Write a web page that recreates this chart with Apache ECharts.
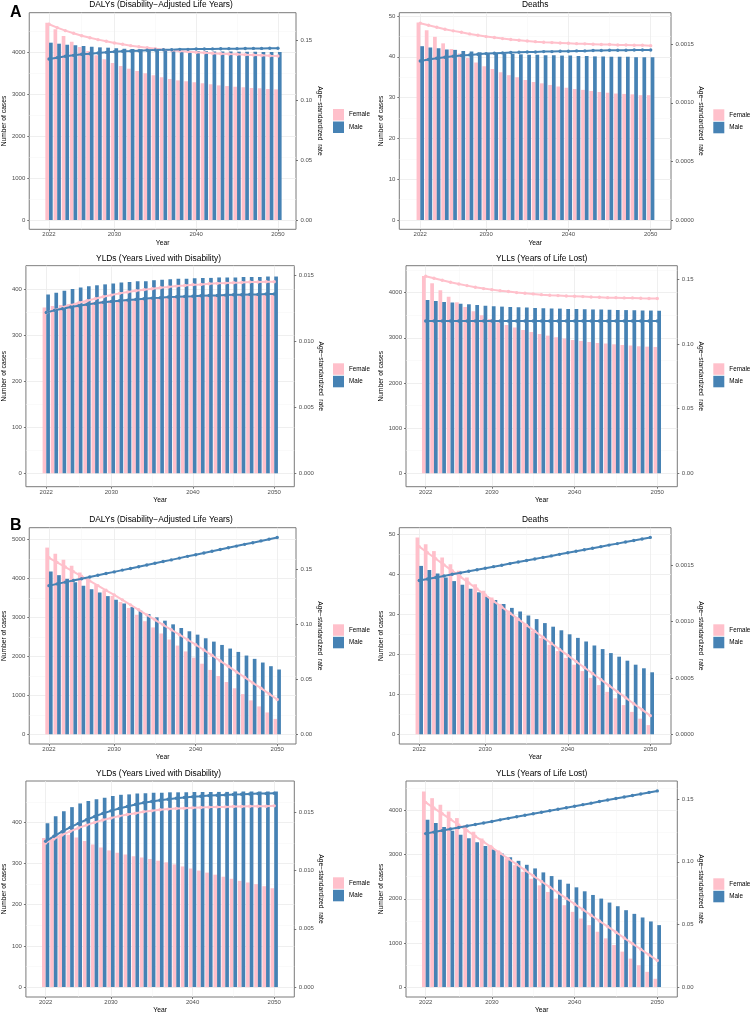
<!DOCTYPE html>
<html><head><meta charset="utf-8">
<script src="https://cdn.jsdelivr.net/npm/echarts@6/dist/echarts.min.js"></script>
<style>html,body{margin:0;padding:0;background:#fff}#c{width:750px;height:1015px}</style>
</head><body><div id="c"></div>
<script>
const years = [2022,2023,2024,2025,2026,2027,2028,2029,2030,2031,2032,2033,2034,2035,2036,2037,2038,2039,2040,2041,2042,2043,2044,2045,2046,2047,2048,2049,2050];
const xTicks = [2022,2030,2040,2050];
const xMinor = [2026,2035,2045];

// ---- A: DALYs ----
const dalysA_female = [4698,4540,4381,4246,4119,4024,3921,3825,3738,3667,3603,3548,3492,3444,3397,3357,3325,3302,3278,3254,3230,3206,3190,3175,3159,3143,3135,3119,3111];
const dalysA_male = [4222,4198,4175,4159,4143,4127,4111,4103,4087,4079,4071,4063,4056,4048,4040,4032,4030,4024,4022,4018,4015,4012,4010,4008,4006,4004,4003,4002,4000];
const dalysA_femaleRate = [0.1631,0.1603,0.1578,0.1556,0.1536,0.1519,0.1503,0.1489,0.1475,0.1464,0.1453,0.1444,0.1436,0.1428,0.1419,0.1414,0.1408,0.1403,0.1397,0.1394,0.1389,0.1386,0.1383,0.1381,0.1378,0.1375,0.1372,0.1369,0.1367];
const dalysA_maleRate = [0.1342,0.1353,0.1364,0.1372,0.1381,0.1386,0.1392,0.1397,0.1403,0.1406,0.1408,0.1411,0.1414,0.1417,0.1419,0.1419,0.1422,0.1422,0.1425,0.1425,0.1426,0.1427,0.1428,0.1428,0.1429,0.1430,0.1430,0.1431,0.1431];
// ---- A: Deaths ----
const deathsA_female = [48.4,46.5,44.9,43.3,41.9,40.8,39.7,38.6,37.7,37.0,36.2,35.5,35.0,34.3,33.8,33.5,33.1,32.7,32.4,32.1,31.9,31.6,31.4,31.2,31.0,30.9,30.8,30.6,30.6];
const deathsA_male = [42.6,42.3,42.1,41.8,41.7,41.4,41.3,41.1,40.9,40.8,40.8,40.7,40.6,40.5,40.5,40.4,40.4,40.3,40.3,40.2,40.2,40.1,40.1,40.0,40.0,40.0,39.9,39.9,39.9];
const deathsA_femaleRate = [0.001679,0.001662,0.001645,0.001628,0.001614,0.001602,0.001588,0.001577,0.001565,0.001557,0.001548,0.001540,0.001534,0.001528,0.001522,0.001517,0.001514,0.001511,0.001508,0.001505,0.001503,0.001500,0.001497,0.001497,0.001494,0.001494,0.001491,0.001491,0.001488];
const deathsA_maleRate = [0.001357,0.001369,0.001380,0.001389,0.001397,0.001403,0.001409,0.001414,0.001420,0.001423,0.001426,0.001429,0.001431,0.001434,0.001434,0.001437,0.001437,0.001440,0.001440,0.001443,0.001443,0.001446,0.001446,0.001449,0.001449,0.001449,0.001451,0.001451,0.001451];
// ---- A: YLDs ----
const yldsA_female = [360,363,365,367,369,371,372,374,375,376,377,378,379,380,381,382,383,384,384,385,385,386,386,387,387,388,388,389,389];
const yldsA_male = [388,392,396,400,403,406,408,410,412,414,415,417,417,419,420,421,422,422,423,424,424,425,425,425,426,426,426,427,427];
const yldsA_femaleRate = [0.01219,0.01239,0.01260,0.01277,0.01295,0.01310,0.01325,0.01340,0.01353,0.01366,0.01376,0.01386,0.01394,0.01401,0.01409,0.01414,0.01421,0.01426,0.01432,0.01434,0.01439,0.01442,0.01444,0.01447,0.01449,0.01452,0.01452,0.01454,0.01454];
const yldsA_maleRate = [0.01221,0.01237,0.01249,0.01262,0.01272,0.01282,0.01290,0.01298,0.01305,0.01310,0.01315,0.01320,0.01325,0.01330,0.01333,0.01338,0.01340,0.01343,0.01345,0.01348,0.01350,0.01350,0.01353,0.01356,0.01356,0.01358,0.01358,0.01361,0.01361];
// ---- A: YLLs ----
const yllsA_female = [4369,4207,4052,3911,3786,3683,3587,3498,3417,3343,3284,3225,3173,3129,3085,3048,3011,2982,2952,2930,2908,2886,2871,2856,2841,2827,2812,2804,2797];
const yllsA_male = [3838,3815,3793,3779,3756,3742,3727,3712,3697,3690,3683,3675,3668,3660,3653,3646,3646,3638,3638,3631,3627,3624,3620,3616,3613,3609,3605,3603,3601];
const yllsA_femaleRate = [0.1523,0.1508,0.1492,0.1477,0.1464,0.1451,0.1438,0.1428,0.1420,0.1412,0.1405,0.1397,0.1392,0.1387,0.1381,0.1376,0.1374,0.1371,0.1369,0.1366,0.1363,0.1361,0.1358,0.1358,0.1356,0.1356,0.1353,0.1351,0.1351];
const yllsA_maleRate = [0.1178,0.1178,0.1178,0.1178,0.1177,0.1177,0.1177,0.1177,0.1177,0.1177,0.1177,0.1177,0.1177,0.1177,0.1177,0.1177,0.1177,0.1177,0.1177,0.1177,0.1177,0.1177,0.1177,0.1177,0.1177,0.1177,0.1177,0.1177,0.1177];
// ---- B: DALYs ----
const dalysB_female = [4787,4630,4475,4320,4150,3990,3835,3690,3545,3395,3240,3065,2900,2740,2585,2430,2275,2125,1965,1810,1650,1495,1340,1180,1030,870,715,560,395];
const dalysB_male = [4174,4080,3986,3901,3807,3722,3637,3543,3450,3356,3262,3169,3083,2998,2913,2819,2726,2641,2555,2462,2376,2291,2198,2112,2019,1934,1840,1746,1661];
const dalysB_femaleRate = [0.1602,0.1560,0.1518,0.1476,0.1434,0.1392,0.1349,0.1307,0.1265,0.1220,0.1175,0.1130,0.1084,0.1039,0.0994,0.0949,0.0904,0.0858,0.0813,0.0765,0.0717,0.0666,0.0617,0.0566,0.0518,0.0467,0.0419,0.0367,0.0316];
const dalysB_maleRate = [0.1349,0.1365,0.1381,0.1396,0.1412,0.1427,0.1443,0.1459,0.1474,0.1490,0.1505,0.1521,0.1537,0.1552,0.1568,0.1583,0.1599,0.1615,0.1630,0.1646,0.1661,0.1677,0.1693,0.1708,0.1724,0.1739,0.1755,0.1771,0.1786];
// ---- B: Deaths ----
const deathsB_female = [49.2,47.5,45.8,44.2,42.5,40.9,39.2,37.5,35.9,34.2,32.6,30.9,29.2,27.6,25.9,24.1,22.4,20.8,19.1,17.4,15.8,14.1,12.3,10.6,9.0,7.3,5.6,3.9,2.3];
const deathsB_male = [42.1,41.1,40.2,39.2,38.3,37.4,36.4,35.5,34.5,33.6,32.6,31.6,30.7,29.7,28.8,27.8,26.9,26.0,25.0,24.1,23.2,22.2,21.3,20.3,19.4,18.4,17.4,16.5,15.5];
const deathsB_femaleRate = [0.001662,0.001608,0.001555,0.001501,0.001448,0.001394,0.001341,0.001287,0.001234,0.001180,0.001127,0.001073,0.001020,0.000966,0.000913,0.000859,0.000806,0.000752,0.000699,0.000645,0.000592,0.000538,0.000485,0.000431,0.000378,0.000325,0.000271,0.000218,0.000165];
const deathsB_maleRate = [0.001362,0.001376,0.001389,0.001403,0.001417,0.001430,0.001444,0.001457,0.001471,0.001485,0.001498,0.001512,0.001526,0.001539,0.001553,0.001567,0.001580,0.001594,0.001608,0.001621,0.001635,0.001648,0.001662,0.001676,0.001689,0.001703,0.001717,0.001730,0.001744];
// ---- B: YLDs ----
const yldsB_female = [362,365,368,370,363,355,346,339,332,326,322,318,315,311,307,303,298,293,288,283,278,273,268,263,258,254,250,245,240];
const yldsB_male = [398,415,427,437,446,452,456,460,464,467,468,470,471,472,472,473,473,473,474,474,474,474,474,475,475,475,475,475,475];
const yldsB_femaleRate = [0.01236,0.01270,0.01304,0.01335,0.01364,0.01389,0.01412,0.01432,0.01449,0.01466,0.01480,0.01491,0.01503,0.01511,0.01520,0.01526,0.01531,0.01534,0.01537,0.01540,0.01543,0.01545,0.01545,0.01548,0.01548,0.01551,0.01551,0.01551,0.01554];
const yldsB_maleRate = [0.01250,0.01293,0.01332,0.01369,0.01403,0.01435,0.01463,0.01489,0.01511,0.01531,0.01548,0.01565,0.01580,0.01591,0.01602,0.01611,0.01619,0.01625,0.01631,0.01636,0.01642,0.01645,0.01648,0.01651,0.01653,0.01656,0.01659,0.01659,0.01662];
// ---- B: YLLs ----
const yllsB_female = [4428,4278,4128,3977,3827,3670,3520,3362,3220,3092,2919,2762,2612,2454,2304,2154,2004,1854,1704,1553,1403,1253,1103,953,803,645,495,345,188];
const yllsB_male = [3790,3715,3625,3542,3452,3370,3280,3197,3114,3024,2942,2859,2769,2687,2597,2514,2431,2341,2259,2169,2086,2004,1914,1831,1741,1658,1576,1486,1403];
const yllsB_femaleRate = [0.1474,0.1429,0.1384,0.1339,0.1294,0.1249,0.1204,0.1159,0.1114,0.1069,0.1024,0.0979,0.0934,0.0888,0.0843,0.0798,0.0753,0.0708,0.0663,0.0618,0.0573,0.0528,0.0483,0.0438,0.0392,0.0347,0.0302,0.0257,0.0212];
const yllsB_maleRate = [0.1225,0.1237,0.1249,0.1262,0.1274,0.1286,0.1298,0.1310,0.1322,0.1335,0.1347,0.1359,0.1371,0.1383,0.1395,0.1408,0.1420,0.1432,0.1444,0.1456,0.1468,0.1481,0.1493,0.1505,0.1517,0.1529,0.1541,0.1554,0.1566];

// tick label lists
const ticksCases4000 = [0,1000,2000,3000,4000];
const ticksCases5000 = [0,1000,2000,3000,4000,5000];
const minorCases = [500,1500,2500,3500,4500];
const ticksDeaths = [0,10,20,30,40,50];
const minorDeaths = [5,15,25,35,45];
const ticksYld = [0,100,200,300,400];
const minorYld = [50,150,250,350,450];
const ticksRate2 = [0,0.05,0.10,0.15];
const ticksRate3 = [0,0.005,0.010,0.015];
const ticksRate4 = [0,0.0005,0.0010,0.0015];

const T_DALY = 'DALYs (Disability\u2212Adjusted Life Years)';
const T_DEATH = 'Deaths';
const T_YLD = 'YLDs (Years Lived with Disability)';
const T_YLL = 'YLLs (Years of Life Lost)';

const panels = [
 {title:T_DALY, f:dalysA_female, m:dalysA_male, fr:dalysA_femaleRate, mr:dalysA_maleRate, yt:ticksCases4000, ym:minorCases, rt:ticksRate2, rd:2,
  g:[26,12.7,270,216.6], x:[2019.58,2052.21], y:[-221,4936], r:[-0.00775,0.17275], lg:[333,109], ty:5, lGap:19, rGap:19},
 {title:T_DEATH, f:deathsA_female, m:deathsA_male, fr:deathsA_femaleRate, mr:deathsA_maleRate, yt:ticksDeaths, ym:minorDeaths, rt:ticksRate4, rd:4,
  g:[399.3,12.7,271.7,216.6], x:[2019.45,2052.47], y:[-2.28,50.81], r:[-0.0000794,0.001769], lg:[713.3,109.3], ty:5, lGap:13, rGap:24},
 {title:T_YLD, f:yldsA_female, m:yldsA_male, fr:yldsA_femaleRate, mr:yldsA_maleRate, yt:ticksYld, ym:minorYld, rt:ticksRate3, rd:3,
  g:[22.7,265.7,271.6,221], x:[2019.5,2052.46], y:[-29.1,450.5], r:[-0.001017,0.01576], lg:[333,363.3], ty:258.5, lGap:16, rGap:21},
 {title:T_YLL, f:yllsA_female, m:yllsA_male, fr:yllsA_femaleRate, mr:yllsA_maleRate, yt:ticksCases4000, ym:minorCases, rt:ticksRate2, rd:2,
  g:[406,265.7,271.3,221], x:[2019.62,2052.42], y:[-297,4596], r:[-0.01036,0.1605], lg:[713.3,363.3], ty:258.5, lGap:19, rGap:18.4},
 {title:T_DALY, f:dalysB_female, m:dalysB_male, fr:dalysB_femaleRate, mr:dalysB_maleRate, yt:ticksCases5000, ym:minorCases, rt:ticksRate2, rd:2,
  g:[26,527.7,270,216.3], x:[2019.58,2052.3], y:[-249,5297], r:[-0.0088,0.1875], lg:[333,624.3], ty:520, lGap:19, rGap:19},
 {title:T_DEATH, f:deathsB_female, m:deathsB_male, fr:deathsB_femaleRate, mr:deathsB_maleRate, yt:ticksDeaths, ym:minorDeaths, rt:ticksRate4, rd:4,
  g:[399.3,527.7,271.7,216.3], x:[2019.58,2052.51], y:[-2.43,51.65], r:[-0.000086,0.00183], lg:[713.3,624.3], ty:520, lGap:13, rGap:24},
 {title:T_YLD, f:yldsB_female, m:yldsB_male, fr:yldsB_femaleRate, mr:yldsB_maleRate, yt:ticksYld, ym:minorYld, rt:ticksRate3, rd:3,
  g:[22.7,781,271.6,217.3], x:[2019.58,2052.46], y:[-24.1,500.5], r:[-0.00085,0.01767], lg:[333,877.3], ty:773.5, lGap:16, rGap:21},
 {title:T_YLL, f:yllsB_female, m:yllsB_male, fr:yllsB_femaleRate, mr:yllsB_maleRate, yt:ticksCases4000, ym:minorCases, rt:ticksRate2, rd:2,
  g:[406,781,271.3,217.3], x:[2019.62,2052.42], y:[-225,4667], r:[-0.00794,0.1645], lg:[713.3,878.3], ty:773.5, lGap:19, rGap:18.4}
];

const PINK = '#FFC0CB', BLUE = '#4682B4';
const FONT = '"Liberation Sans", Arial, Helvetica, sans-serif';
const grids=[], xAxes=[], yAxes=[], series=[], legends=[], graphics=[];
const MAJOR = {color:'#ebebeb', width:0.8};
const MINOR = {color:'#f5f5f5', width:0.5};

panels.forEach((p,i)=>{
  grids.push({left:p.g[0], top:p.g[1], width:p.g[2], height:p.g[3], show:true, borderColor:'#7a7a7a', borderWidth:1, backgroundColor:'#fff'});
  xAxes.push({type:'value', gridIndex:i, position:'bottom', min:p.x[0], max:p.x[1],
    name:'Year', nameLocation:'middle', nameGap:10, nameTextStyle:{fontSize:6.7, color:'#000', fontFamily:FONT},
    axisLine:{show:false, onZero:false},
    axisTick:{show:true, length:2, customValues:xTicks, lineStyle:{color:'#555', width:0.8}},
    axisLabel:{customValues:xTicks, fontSize:6, color:'#4d4d4d', margin:2.5, fontFamily:FONT, formatter:v=>String(v)},
    splitLine:{show:true, lineStyle:MAJOR}});
  xAxes.push({type:'value', gridIndex:i, position:'top', min:p.x[0], max:p.x[1],
    axisLine:{show:false, onZero:false}, axisTick:{show:false, customValues:xMinor}, axisLabel:{show:false},
    splitLine:{show:true, lineStyle:MINOR}});
  yAxes.push({type:'value', gridIndex:i, position:'left', min:p.y[0], max:p.y[1],
    name:'Number of cases', nameLocation:'middle', nameGap:p.lGap, nameTextStyle:{fontSize:6.7, color:'#000', fontFamily:FONT},
    axisLine:{show:false, onZero:false},
    axisTick:{show:true, length:2, customValues:p.yt, lineStyle:{color:'#555', width:0.8}},
    axisLabel:{customValues:p.yt, fontSize:6, color:'#4d4d4d', margin:4, fontFamily:FONT, formatter:v=>String(v)},
    splitLine:{show:true, lineStyle:MAJOR}});
  yAxes.push({type:'value', gridIndex:i, position:'right', min:p.r[0], max:p.r[1],
    name:'Age\u2212standardized  rate', nameLocation:'middle', nameRotate:-90, nameGap:p.rGap, nameTextStyle:{fontSize:6.7, color:'#000', fontFamily:FONT},
    axisLine:{show:false, onZero:false},
    axisTick:{show:true, length:2, customValues:p.rt, lineStyle:{color:'#555', width:0.8}},
    axisLabel:{customValues:p.rt, fontSize:6, color:'#4d4d4d', margin:4.5, fontFamily:FONT, formatter:v=>Number(v).toFixed(p.rd)},
    splitLine:{show:false}});
  yAxes.push({type:'value', gridIndex:i, position:'left', min:p.y[0], max:p.y[1],
    axisLine:{show:false, onZero:false}, axisTick:{show:false, customValues:p.ym}, axisLabel:{show:false},
    splitLine:{show:true, lineStyle:MINOR}});
  const xi = 2*i, yl = 3*i, yr = 3*i+1;
  series.push({type:'bar', name:'Female', xAxisIndex:xi, yAxisIndex:yl, barWidth:'45%', barGap:'0%',
    itemStyle:{color:PINK}, data:years.map((yy,k)=>[yy,p.f[k]])});
  series.push({type:'bar', name:'Male', xAxisIndex:xi, yAxisIndex:yl, barWidth:'45%', barGap:'0%',
    itemStyle:{color:BLUE}, data:years.map((yy,k)=>[yy,p.m[k]])});
  series.push({type:'line', name:'Female rate', xAxisIndex:xi, yAxisIndex:yr, symbol:'circle', symbolSize:3.4, showAllSymbol:true,
    lineStyle:{color:PINK, width:2}, itemStyle:{color:PINK}, data:years.map((yy,k)=>[yy,p.fr[k]])});
  series.push({type:'line', name:'Male rate', xAxisIndex:xi, yAxisIndex:yr, symbol:'circle', symbolSize:3.4, showAllSymbol:true,
    lineStyle:{color:BLUE, width:2}, itemStyle:{color:BLUE}, data:years.map((yy,k)=>[yy,p.mr[k]])});
  legends.push({orient:'vertical', left:p.lg[0], top:p.lg[1], padding:0, itemWidth:11, itemHeight:11.5, itemGap:1,
    icon:'rect', selectedMode:false, data:['Female','Male'], textStyle:{fontSize:6.3, color:'#000', fontFamily:FONT}});
  graphics.push({type:'text', x:p.g[0]+p.g[2]/2, y:p.ty, silent:true,
    style:{text:p.title, fontSize:8.4, fontFamily:FONT, fill:'#000', align:'center', textAlign:'center', verticalAlign:'middle', textVerticalAlign:'middle'}});
});
graphics.push({type:'text', x:10, y:13, style:{text:'A', fontSize:16, fontWeight:'bold', fontFamily:FONT, fill:'#000', verticalAlign:'middle', textVerticalAlign:'middle'}});
graphics.push({type:'text', x:10, y:526, style:{text:'B', fontSize:16, fontWeight:'bold', fontFamily:FONT, fill:'#000', verticalAlign:'middle', textVerticalAlign:'middle'}});

const chart = echarts.init(document.getElementById('c'), null, {renderer:'canvas'});
chart.setOption({
  animation:false, backgroundColor:'#fff', textStyle:{fontFamily:FONT},
  grid:grids, xAxis:xAxes, yAxis:yAxes, series:series, legend:legends, graphic:graphics
});
</script></body></html>
